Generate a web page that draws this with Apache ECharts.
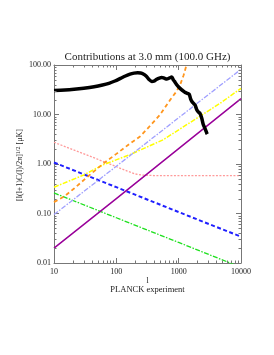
<!DOCTYPE html>
<html><head><meta charset="utf-8">
<script src="https://cdn.jsdelivr.net/npm/echarts@6/dist/echarts.min.js"></script>
<style>html,body{margin:0;padding:0;background:#fff}#c{width:274px;height:355px}</style>
</head><body><div id="c"></div>
<script>
// ---- data (multipole l, amplitude in μK) ----
const titleText = 'Contributions at 3.0 mm (100.0 GHz)';
const xTickLabels = ['10', '100', '1000', '10000'];
const yTickLabels = ['0.01', '0.10', '1.00', '10.00', '100.00'];

const cmb = [[10,30.5],[15,31.2],[21,32.3],[30,34],[44,36.5],[60,39.5],[76,42.7],[95,47.5],[117,53.8],[140,60],[166,65.5],[192,68.5],[220,70],[245,69],[270,66],[300,60],[335,51],[370,46.5],[410,48],[445,51.5],[490,54.5],[535,56],[590,54],[645,52],[700,54],[775,57],[820,50],[875,45],[931,40],[1000,36],[1121,31.5],[1200,29.5],[1268,28],[1400,26.5],[1480,25.5],[1550,21],[1622,18.5],[1750,16.5],[1834,15.5],[1952,12.5],[2100,11],[2203,10.5],[2347,8.4],[2490,6.2],[2650,5.2],[2823,4.2],[2880,4.0]];
const orange = [[10,0.17],[14.5,0.22],[21,0.32],[35,0.56],[63.5,1.05],[100,1.6],[166,2.6],[240,3.6],[335,5.6],[500,9.8],[725,19.5],[900,28],[1050,39],[1200,62],[1320,95],[1420,140]];
const lavender = [[10,0.095],[100,0.9],[1000,8.6],[10000,82]];
const yellow = [[10,0.34],[30,0.6],[60,0.95],[166,1.55],[568,3.1],[1500,6.8],[4610,16.8],[10000,33.8]];
const purple = [[10,0.02],[100,0.2],[1000,2.05],[10000,21]];
const pink = [[10,2.75],[50,1.25],[150,0.72],[200,0.63],[250,0.6],[400,0.585],[1000,0.58],[10000,0.58]];
const blue = [[10,1.07],[100,0.34],[1000,0.107],[10000,0.034]];
const green = [[10,0.26],[100,0.082],[1000,0.026],[6700,0.01],[10000,0.0082]];

// minor tick positions (2..9 within each decade)
const xMinor = [], yMinor = [];
[10, 100, 1000].forEach(d => { for (let k = 2; k <= 9; k++) xMinor.push(k * d); });
[0.01, 0.1, 1, 10].forEach(d => { for (let k = 2; k <= 9; k++) yMinor.push(+(k * d).toPrecision(3)); });

const AX = '#777';
const FONT = '"Liberation Serif", "DejaVu Serif", serif';

function lineSeries(data, color, width, type, z) {
  return { type: 'line', data: data, showSymbol: false, symbol: 'none', smooth: false, z: z || 2,
    lineStyle: { color: color, width: width, type: type }, silent: true, animation: false };
}

function xTickItem(params, api) {
  const v = api.value(0);
  const b = api.coord([v, 0.01]), t = api.coord([v, 100]);
  const x = Math.round(b[0]) + 0.5;
  return { type: 'group', children: [
    { type: 'line', shape: { x1: x, y1: b[1], x2: x, y2: b[1] - 2.5 }, style: { stroke: AX, lineWidth: 1 } },
    { type: 'line', shape: { x1: x, y1: t[1], x2: x, y2: t[1] + 2.5 }, style: { stroke: AX, lineWidth: 1 } }
  ]};
}
function yTickItem(params, api) {
  const v = api.value(1);
  const l = api.coord([10, v]), r = api.coord([10000, v]);
  const y = Math.round(l[1]) + 0.5;
  return { type: 'group', children: [
    { type: 'line', shape: { x1: l[0], y1: y, x2: l[0] + 2.5, y2: y }, style: { stroke: AX, lineWidth: 1 } },
    { type: 'line', shape: { x1: r[0], y1: y, x2: r[0] - 2.5, y2: y }, style: { stroke: AX, lineWidth: 1 } }
  ]};
}

const xBase = { type: 'log', logBase: 10, min: 10, max: 10000, splitLine: { show: false },
  axisLine: { show: true, lineStyle: { color: AX, width: 1 } },
  axisTick: { show: true, inside: true, length: 5, lineStyle: { color: AX } },
  minorTick: { show: false } };
const yBase = { type: 'log', logBase: 10, min: 0.01, max: 100, splitLine: { show: false },
  axisLine: { show: true, lineStyle: { color: AX, width: 1 } },
  axisTick: { show: true, inside: true, length: 5, lineStyle: { color: AX } },
  minorTick: { show: false } };

const chart = echarts.init(document.getElementById('c'), null, { renderer: 'canvas' });
chart.setOption({
  animation: false,
  backgroundColor: '#fff',
  grid: { left: 54, top: 65, width: 187, height: 198, containLabel: false, outerBoundsMode: 'none' },
  xAxis: [
    Object.assign({}, xBase, { position: 'bottom',
      axisLabel: { show: true, fontFamily: FONT, fontSize: 8, color: '#222', margin: 5,
        formatter: v => xTickLabels[Math.round(Math.log10(v)) - 1] } }),
    Object.assign({}, xBase, { position: 'top', axisLabel: { show: false } })
  ],
  yAxis: [
    Object.assign({}, yBase, { position: 'left',
      axisLabel: { show: true, fontFamily: FONT, fontSize: 8, color: '#222', margin: 3,
        formatter: v => yTickLabels[Math.round(Math.log10(v)) + 2] } }),
    Object.assign({}, yBase, { position: 'right', axisLabel: { show: false } })
  ],
  series: [
    lineSeries(pink, '#ff9a9a', 1.3, [2, 1.5]),
    lineSeries(green, '#1ee01e', 1.3, [5, 1.5, 1.5, 1.5]),
    lineSeries(blue, '#2020ff', 2, [4, 2.5]),
    lineSeries(purple, '#990099', 1.5, 'solid'),
    lineSeries(yellow, '#ffff00', 1.5, [5, 1.5, 1.5, 1.5]),
    lineSeries(lavender, '#a0a0ff', 1.3, [5, 1.5, 1.5, 1.5]),
    lineSeries(orange, '#ff961e', 1.8, [4, 3]),
    Object.assign(lineSeries(cmb, '#000', 3.5, 'solid', 3), { smooth: 0.3 }),
    { type: 'custom', renderItem: xTickItem, data: xMinor.map(v => [v, 1]), xAxisIndex: 0, yAxisIndex: 0, silent: true, clip: false, z: 5 },
    { type: 'custom', renderItem: yTickItem, data: yMinor.map(v => [10, v]), xAxisIndex: 0, yAxisIndex: 0, silent: true, clip: false, z: 5 }
  ],
  graphic: [
    { type: 'text', x: 147.5, y: 57, style: { text: titleText, font: '11px ' + FONT, fill: '#222', align: 'center', verticalAlign: 'middle' } },
    { type: 'text', x: 147.7, y: 280.5, style: { text: 'l', font: '8px ' + FONT, fill: '#222', align: 'center', verticalAlign: 'middle' } },
    { type: 'text', x: 147.5, y: 289.5, style: { text: 'PLANCK experiment', font: '8.5px ' + FONT, fill: '#222', align: 'center', verticalAlign: 'middle' } },
    { type: 'text', x: 20, y: 165, rotation: Math.PI / 2,
      style: { text: '{a|[l(l+1)C(l)/2π]}{s|1/2}{a| [μK]}', align: 'center', verticalAlign: 'middle', fill: '#222',
        rich: { a: { fontFamily: FONT, fontSize: 8, fill: '#222', lineHeight: 10 },
                s: { fontFamily: FONT, fontSize: 6, fill: '#222', verticalAlign: 'top', lineHeight: 10, padding: [0, 0, 4, 0] } } } }
  ]
});
</script></body></html>
